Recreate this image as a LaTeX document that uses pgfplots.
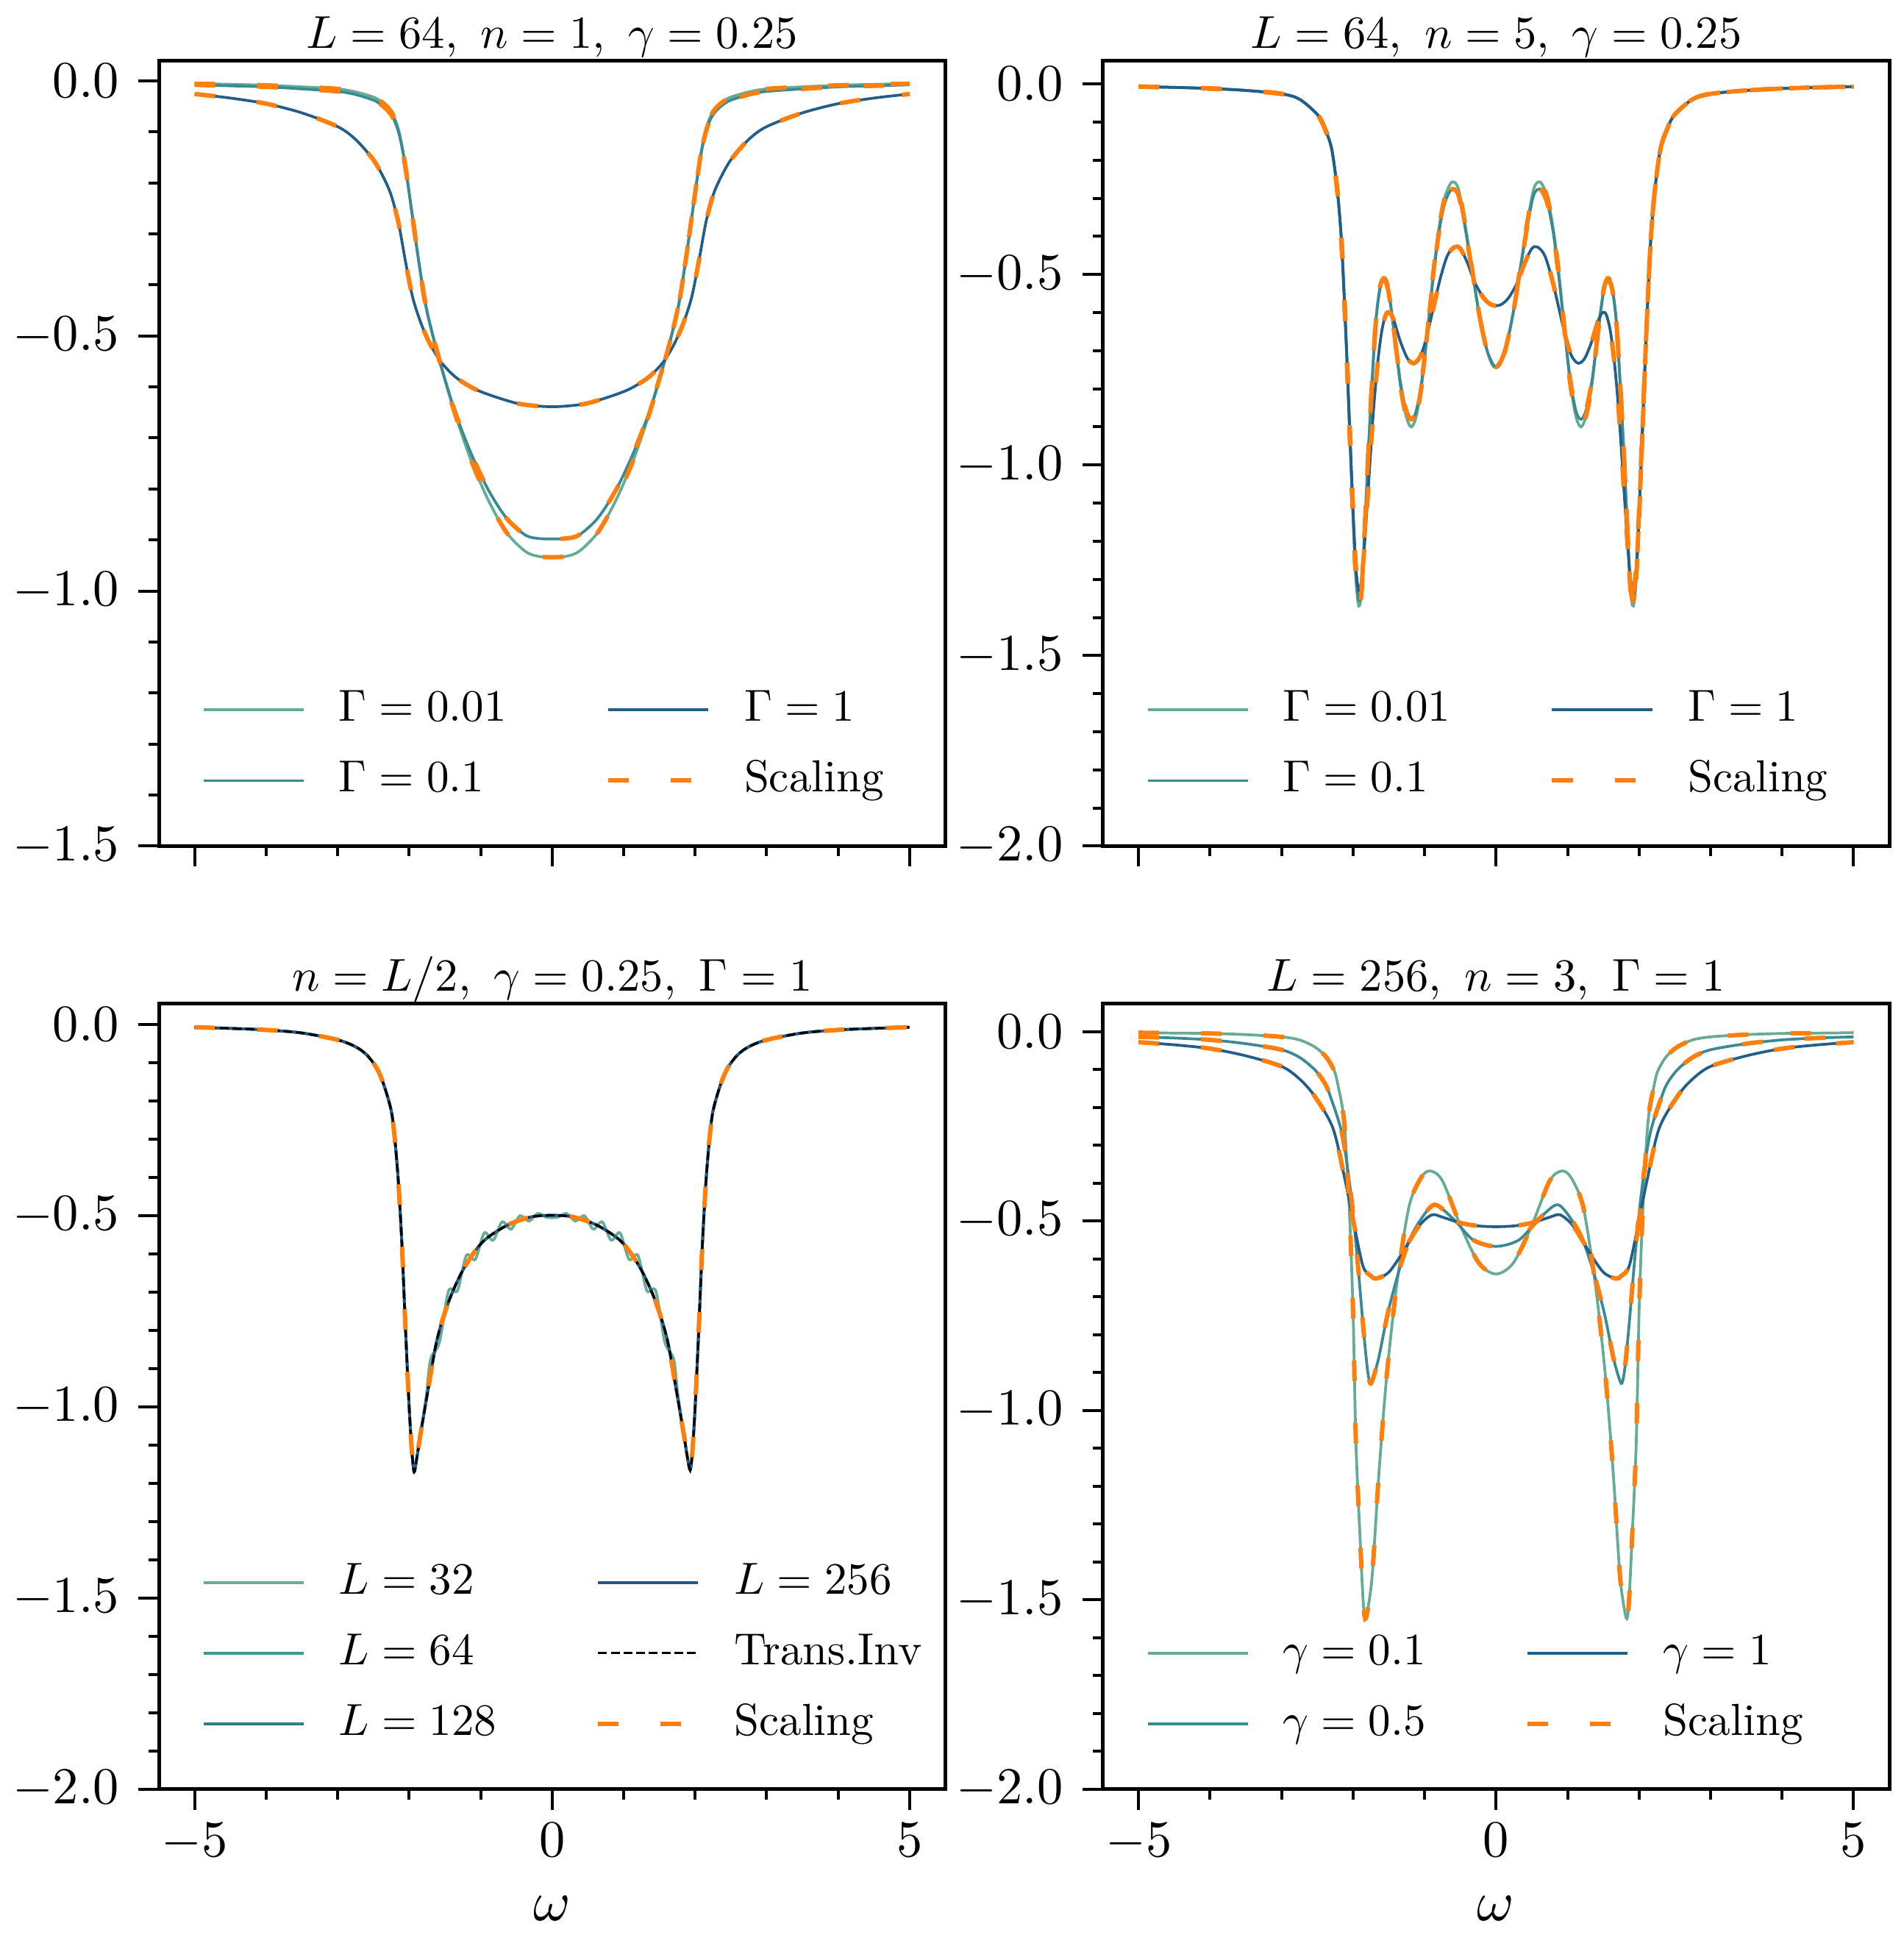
\RequirePackage{fix-cm}
\documentclass[border=0pt]{standalone}
\usepackage{graphicx}
\usepackage{pgfplots}
\usepackage{pgfplotstable}
\pgfplotsset{compat=1.18}
\usepgfplotslibrary{groupplots}
\definecolor{cA}{RGB}{102,172,146}
\definecolor{cB}{RGB}{57,138,146}
\definecolor{cC}{RGB}{34,94,138}
\definecolor{lA}{RGB}{104,174,148}
\definecolor{lB}{RGB}{70,151,144}
\definecolor{lC}{RGB}{48,125,142}
\definecolor{lD}{RGB}{36,88,137}
\definecolor{orng}{RGB}{255,127,14}
\newcommand{\TL}[1]{\scalebox{1.41}{#1}}
\newcommand{\LG}[1]{\scalebox{1.22}{#1}}
\newcommand{\TT}[1]{\scalebox{1.25}{#1}}

% ---------- panel 1 ----------
\pgfplotstableread{
x y
-5 -0.006
-4.5 -0.007
-4 -0.009
-3.5 -0.012
-3 -0.016
-2.75 -0.022
-2.5 -0.032
-2.4 -0.040
-2.3 -0.052
-2.22 -0.068
-2.15 -0.095
-2.09 -0.135
-2.03 -0.190
-1.96 -0.260
-1.87 -0.350
-1.77 -0.440
-1.66 -0.505
-1.53 -0.572
-1.36 -0.652
-1.15 -0.738
-0.9 -0.820
-0.64 -0.885
-0.38 -0.922
-0.2 -0.932
0 -0.934
0.2 -0.932
0.38 -0.922
0.64 -0.885
0.9 -0.820
1.15 -0.738
1.36 -0.652
1.53 -0.572
1.66 -0.505
1.77 -0.440
1.87 -0.350
1.96 -0.260
2.03 -0.190
2.09 -0.135
2.15 -0.095
2.22 -0.068
2.3 -0.052
2.4 -0.040
2.5 -0.032
2.75 -0.022
3 -0.016
3.5 -0.012
4 -0.009
4.5 -0.007
5 -0.006
}\pA
\pgfplotstableread{
x y
-5 -0.008
-4.5 -0.010
-4 -0.012
-3.5 -0.016
-3 -0.021
-2.75 -0.027
-2.5 -0.038
-2.4 -0.046
-2.3 -0.058
-2.22 -0.074
-2.15 -0.100
-2.09 -0.138
-2.03 -0.190
-1.96 -0.260
-1.87 -0.350
-1.77 -0.438
-1.66 -0.504
-1.53 -0.570
-1.36 -0.648
-1.15 -0.725
-0.9 -0.800
-0.64 -0.857
-0.38 -0.890
-0.2 -0.897
0 -0.898
0.2 -0.897
0.38 -0.890
0.64 -0.857
0.9 -0.800
1.15 -0.725
1.36 -0.648
1.53 -0.570
1.66 -0.504
1.77 -0.438
1.87 -0.350
1.96 -0.260
2.03 -0.190
2.09 -0.138
2.15 -0.100
2.22 -0.074
2.3 -0.058
2.4 -0.046
2.5 -0.038
2.75 -0.027
3 -0.021
3.5 -0.016
4 -0.012
4.5 -0.010
5 -0.008
}\pB
\pgfplotstableread{
x y
-5 -0.026
-4.5 -0.034
-4 -0.045
-3.5 -0.063
-3 -0.090
-2.75 -0.115
-2.5 -0.155
-2.35 -0.192
-2.25 -0.225
-2.15 -0.278
-2.05 -0.355
-1.95 -0.425
-1.83 -0.477
-1.7 -0.518
-1.55 -0.552
-1.35 -0.581
-1.1 -0.603
-0.85 -0.617
-0.5 -0.632
-0.25 -0.637
0 -0.639
0.25 -0.637
0.5 -0.632
0.85 -0.617
1.1 -0.603
1.35 -0.581
1.55 -0.552
1.7 -0.518
1.83 -0.477
1.95 -0.425
2.05 -0.355
2.15 -0.278
2.25 -0.225
2.35 -0.192
2.5 -0.155
2.75 -0.115
3 -0.090
3.5 -0.063
4 -0.045
4.5 -0.034
5 -0.026
}\pC

% ---------- panel 2 ----------
\pgfplotstableread{
x y
-5 -0.007
-4.5 -0.009
-4 -0.012
-3.5 -0.017
-3 -0.026
-2.75 -0.040
-2.5 -0.080
-2.4 -0.115
-2.3 -0.170
-2.22 -0.28
-2.16 -0.42
-2.10 -0.66
-2.05 -0.90
-2.00 -1.14
-1.96 -1.30
-1.92 -1.37
-1.88 -1.33
-1.84 -1.18
-1.79 -0.98
-1.74 -0.80
-1.68 -0.62
-1.62 -0.53
-1.56 -0.51
-1.50 -0.545
-1.42 -0.66
-1.34 -0.79
-1.26 -0.87
-1.19 -0.90
-1.12 -0.875
-1.04 -0.79
-0.96 -0.65
-0.88 -0.50
-0.80 -0.38
-0.72 -0.30
-0.64 -0.262
-0.58 -0.258
-0.52 -0.28
-0.44 -0.36
-0.34 -0.48
-0.24 -0.60
-0.14 -0.69
-0.06 -0.735
0 -0.745
0.06 -0.735
0.14 -0.69
0.24 -0.60
0.34 -0.48
0.44 -0.36
0.52 -0.28
0.58 -0.258
0.64 -0.262
0.72 -0.30
0.80 -0.38
0.88 -0.50
0.96 -0.65
1.04 -0.79
1.12 -0.875
1.19 -0.90
1.26 -0.87
1.34 -0.79
1.42 -0.66
1.50 -0.545
1.56 -0.51
1.62 -0.53
1.68 -0.62
1.74 -0.80
1.79 -0.98
1.84 -1.18
1.88 -1.33
1.92 -1.37
1.96 -1.30
2.00 -1.14
2.05 -0.90
2.10 -0.66
2.16 -0.42
2.22 -0.28
2.3 -0.170
2.4 -0.115
2.5 -0.080
2.75 -0.040
3 -0.026
3.5 -0.017
4 -0.012
4.5 -0.009
5 -0.007
}\qA
\pgfplotstableread{
x y
-5 -0.007
-4.5 -0.009
-4 -0.012
-3.5 -0.017
-3 -0.026
-2.75 -0.040
-2.5 -0.080
-2.4 -0.115
-2.3 -0.170
-2.22 -0.28
-2.16 -0.42
-2.10 -0.66
-2.05 -0.90
-2.00 -1.13
-1.96 -1.29
-1.92 -1.355
-1.88 -1.32
-1.84 -1.18
-1.79 -0.98
-1.74 -0.80
-1.68 -0.62
-1.62 -0.535
-1.56 -0.515
-1.50 -0.55
-1.42 -0.66
-1.34 -0.78
-1.26 -0.855
-1.19 -0.88
-1.12 -0.86
-1.04 -0.78
-0.96 -0.65
-0.88 -0.51
-0.80 -0.39
-0.72 -0.315
-0.64 -0.28
-0.58 -0.277
-0.52 -0.295
-0.44 -0.37
-0.34 -0.485
-0.24 -0.60
-0.14 -0.69
-0.06 -0.73
0 -0.742
0.06 -0.73
0.14 -0.69
0.24 -0.60
0.34 -0.485
0.44 -0.37
0.52 -0.295
0.58 -0.277
0.64 -0.28
0.72 -0.315
0.80 -0.39
0.88 -0.51
0.96 -0.65
1.04 -0.78
1.12 -0.86
1.19 -0.88
1.26 -0.855
1.34 -0.78
1.42 -0.66
1.50 -0.55
1.56 -0.515
1.62 -0.535
1.68 -0.62
1.74 -0.80
1.79 -0.98
1.84 -1.18
1.88 -1.32
1.92 -1.355
1.96 -1.29
2.00 -1.13
2.05 -0.90
2.10 -0.66
2.16 -0.42
2.22 -0.28
2.3 -0.170
2.4 -0.115
2.5 -0.080
2.75 -0.040
3 -0.026
3.5 -0.017
4 -0.012
4.5 -0.009
5 -0.007
}\qB
\pgfplotstableread{
x y
-5 -0.007
-4.5 -0.009
-4 -0.012
-3.5 -0.017
-3 -0.026
-2.75 -0.040
-2.5 -0.080
-2.4 -0.115
-2.3 -0.170
-2.22 -0.28
-2.16 -0.42
-2.10 -0.66
-2.05 -0.89
-2.00 -1.12
-1.96 -1.27
-1.92 -1.33
-1.88 -1.30
-1.84 -1.21
-1.78 -1.04
-1.72 -0.87
-1.66 -0.74
-1.60 -0.65
-1.54 -0.605
-1.49 -0.600
-1.43 -0.620
-1.34 -0.675
-1.24 -0.720
-1.15 -0.733
-1.06 -0.715
-0.98 -0.670
-0.88 -0.590
-0.78 -0.510
-0.68 -0.450
-0.58 -0.428
-0.50 -0.432
-0.40 -0.470
-0.30 -0.520
-0.18 -0.560
-0.08 -0.578
0 -0.582
0.08 -0.578
0.18 -0.560
0.30 -0.520
0.40 -0.470
0.50 -0.432
0.58 -0.428
0.68 -0.450
0.78 -0.510
0.88 -0.590
0.98 -0.670
1.06 -0.715
1.15 -0.733
1.24 -0.720
1.34 -0.675
1.43 -0.620
1.49 -0.600
1.54 -0.605
1.60 -0.65
1.66 -0.74
1.72 -0.87
1.78 -1.04
1.84 -1.21
1.88 -1.30
1.92 -1.33
1.96 -1.27
2.00 -1.12
2.05 -0.89
2.10 -0.66
2.16 -0.42
2.22 -0.28
2.3 -0.170
2.4 -0.115
2.5 -0.080
2.75 -0.040
3 -0.026
3.5 -0.017
4 -0.012
4.5 -0.009
5 -0.007
}\qC

% ---------- panel 3 ----------
\pgfplotstableread{
x y
-5 -0.007
-4.5 -0.010
-4 -0.014
-3.5 -0.022
-3 -0.040
-2.75 -0.058
-2.59 -0.080
-2.45 -0.115
-2.35 -0.160
-2.25 -0.226
-2.2 -0.300
-2.15 -0.414
-2.10 -0.580
-2.05 -0.800
-2.0 -1.000
-1.96 -1.120
-1.93 -1.170
-1.89 -1.130
-1.84 -1.070
-1.74 -0.960
-1.61 -0.824
-1.44 -0.721
-1.23 -0.636
-0.97 -0.568
-0.63 -0.525
-0.29 -0.503
0 -0.499
0.29 -0.503
0.63 -0.525
0.97 -0.568
1.23 -0.636
1.44 -0.721
1.61 -0.824
1.74 -0.960
1.84 -1.070
1.89 -1.130
1.93 -1.165
1.96 -1.120
2.0 -1.000
2.05 -0.800
2.10 -0.580
2.15 -0.414
2.2 -0.300
2.25 -0.226
2.35 -0.160
2.45 -0.115
2.59 -0.080
2.75 -0.058
3 -0.040
3.5 -0.022
4 -0.014
4.5 -0.010
5 -0.007
}\rBase
\pgfplotstableread{
x y
-5 -0.007
-4.5 -0.010
-4 -0.014
-3.5 -0.022
-3 -0.040
-2.75 -0.058
-2.59 -0.080
-2.45 -0.115
-2.35 -0.160
-2.25 -0.226
-2.2 -0.300
-2.15 -0.414
-2.10 -0.580
-2.05 -0.800
-2.0 -1.000
-1.96 -1.120
-1.93 -1.170
-1.89 -1.130
-1.84 -1.070
-1.76 -0.970
-1.70 -0.875
-1.575 -0.830
-1.45 -0.697
-1.325 -0.696
-1.2 -0.604
-1.075 -0.614
-0.95 -0.545
-0.825 -0.564
-0.70 -0.516
-0.575 -0.535
-0.45 -0.500
-0.325 -0.514
-0.20 -0.494
-0.075 -0.504
0.075 -0.504
0.20 -0.494
0.325 -0.514
0.45 -0.500
0.575 -0.535
0.70 -0.516
0.825 -0.564
0.95 -0.545
1.075 -0.614
1.2 -0.604
1.325 -0.696
1.45 -0.697
1.575 -0.830
1.70 -0.875
1.76 -0.970
1.84 -1.070
1.89 -1.130
1.93 -1.165
1.96 -1.120
2.0 -1.000
2.05 -0.800
2.10 -0.580
2.15 -0.414
2.2 -0.300
2.25 -0.226
2.35 -0.160
2.45 -0.115
2.59 -0.080
2.75 -0.058
3 -0.040
3.5 -0.022
4 -0.014
4.5 -0.010
5 -0.007
}\rW

% ---------- panel 4 ----------
\pgfplotstableread{
x y
-5 -0.003
-4.5 -0.004
-4 -0.005
-3.5 -0.008
-3 -0.014
-2.75 -0.022
-2.54 -0.040
-2.4 -0.062
-2.32 -0.083
-2.25 -0.110
-2.2 -0.152
-2.15 -0.200
-2.11 -0.273
-2.05 -0.480
-2.0 -0.740
-1.96 -1.087
-1.90 -1.346
-1.86 -1.500
-1.83 -1.550
-1.79 -1.520
-1.73 -1.430
-1.64 -1.170
-1.53 -0.910
-1.39 -0.670
-1.22 -0.464
-1.05 -0.386
-0.92 -0.368
-0.75 -0.394
-0.49 -0.516
-0.24 -0.611
0 -0.640
0.24 -0.611
0.49 -0.516
0.75 -0.394
0.92 -0.368
1.05 -0.386
1.22 -0.464
1.39 -0.670
1.53 -0.910
1.64 -1.170
1.73 -1.430
1.79 -1.520
1.83 -1.550
1.86 -1.500
1.90 -1.346
1.96 -1.087
2.0 -0.740
2.05 -0.480
2.11 -0.273
2.15 -0.200
2.2 -0.152
2.25 -0.110
2.32 -0.083
2.4 -0.062
2.54 -0.040
2.75 -0.022
3 -0.014
3.5 -0.008
4 -0.005
4.5 -0.004
5 -0.003
}\sA
\pgfplotstableread{
x y
-5 -0.014
-4.5 -0.017
-4 -0.022
-3.5 -0.032
-3 -0.048
-2.75 -0.068
-2.54 -0.100
-2.4 -0.135
-2.32 -0.170
-2.15 -0.273
-2.03 -0.430
-1.94 -0.600
-1.86 -0.775
-1.80 -0.890
-1.76 -0.928
-1.72 -0.915
-1.64 -0.860
-1.51 -0.740
-1.34 -0.620
-1.17 -0.533
-0.96 -0.472
-0.83 -0.458
-0.58 -0.498
-0.32 -0.550
0 -0.567
0.32 -0.550
0.58 -0.498
0.83 -0.458
0.96 -0.472
1.17 -0.533
1.34 -0.620
1.51 -0.740
1.64 -0.860
1.72 -0.915
1.76 -0.928
1.80 -0.890
1.86 -0.775
1.94 -0.600
2.03 -0.430
2.15 -0.273
2.32 -0.170
2.4 -0.135
2.54 -0.100
2.75 -0.068
3 -0.048
3.5 -0.032
4 -0.022
4.5 -0.017
5 -0.014
}\sB
\pgfplotstableread{
x y
-5 -0.028
-4.5 -0.035
-4 -0.045
-3.5 -0.064
-3 -0.092
-2.75 -0.125
-2.54 -0.170
-2.28 -0.256
-2.11 -0.394
-1.98 -0.516
-1.86 -0.620
-1.75 -0.645
-1.68 -0.652
-1.51 -0.637
-1.34 -0.593
-1.09 -0.516
-0.9 -0.484
-0.75 -0.490
-0.5 -0.505
-0.25 -0.513
0 -0.515
0.25 -0.513
0.5 -0.505
0.75 -0.490
0.9 -0.484
1.09 -0.516
1.34 -0.593
1.51 -0.637
1.68 -0.652
1.75 -0.645
1.86 -0.620
1.98 -0.516
2.11 -0.394
2.28 -0.256
2.54 -0.170
2.75 -0.125
3 -0.092
3.5 -0.064
4 -0.045
4.5 -0.035
5 -0.028
}\sC

\pgfplotsset{
  myaxis/.style={
    scale only axis, width=213.8pt, height=213.6pt,
    xmin=-5.5, xmax=5.5, xtick={-5,0,5}, minor x tick num=4,
    ytick={-2,-1.5,-1,-0.5,0}, minor y tick num=4,
    tick align=outside, tick pos=left,
    major tick length=5.6pt, minor tick length=2.8pt,
    every tick/.style={black, line width=0.8pt},
    axis line style={line width=1pt},
    yticklabel={\TL{$\pgfmathprintnumber[fixed,fixed zerofill,precision=1]{\tick}$}},
    xticklabel={\TL{$\pgfmathprintnumber{\tick}$}},
    yticklabel style={font=\fontsize{10}{12}\selectfont, inner sep=0pt, xshift=-5pt},
    xticklabel style={font=\fontsize{10}{12}\selectfont, inner sep=0pt, yshift=-3.4pt},
    every axis title/.style={font=\fontsize{10}{12}\selectfont, at={(0.5,1)}, anchor=base, yshift=3.4pt, inner sep=0pt},
    every axis x label/.style={font=\fontsize{10}{12}\selectfont, at={(axis description cs:0.5,0)}, anchor=base, yshift=-35.6pt, inner sep=0pt},
    legend columns=2, legend cell align=left,
    legend image code/.code={\draw[##1] (0pt,0pt) -- (27.2pt,0pt);},
    legend style={draw=none, fill=none, at={(0,0)}, anchor=south west,
      xshift=11.8pt, yshift=12.3pt, inner sep=0pt, outer sep=0pt,
      font=\fontsize{10}{12}\selectfont, row sep=8.2pt,
      nodes={inner sep=0pt, text height=8.6pt, text depth=2.4pt},
      /tikz/every odd column/.append style={column sep=9.2pt},
      /tikz/every even column/.append style={column sep=27pt}},
    every axis plot/.append style={smooth, tension=0.5},
  },
  thin line/.style={line width=0.75pt},
  scal/.style={orng, line width=1.2pt, dash pattern=on 5.6pt off 11.4pt},
}

\begin{document}
\begin{tikzpicture}
\begin{groupplot}[group style={group size=2 by 2, horizontal sep=42.8pt, vertical sep=42.8pt, xticklabels at=edge bottom}, myaxis]
% ---- panel 1
\nextgroupplot[ymin=-1.5, ymax=0.04, title={\TT{$L=64,\ n=1,\ \gamma=0.25$}}]
\addplot[cA, thin line, forget plot] table {\pA};
\addplot[cB, thin line, forget plot] table {\pB};
\addplot[cC, thin line, forget plot] table {\pC};
\addplot[scal, forget plot] table {\pA};
\addplot[scal, forget plot] table {\pB};
\addplot[scal, forget plot] table {\pC};
\addlegendimage{cA, thin line}\addlegendentry{\LG{$\Gamma=0.01$}}
\addlegendimage{cC, thin line}\addlegendentry{\LG{$\Gamma=1$}}
\addlegendimage{cB, thin line}\addlegendentry{\LG{$\Gamma=0.1$}}
\addlegendimage{scal}\addlegendentry{\LG{Scaling}}
% ---- panel 2
\nextgroupplot[ymin=-2, ymax=0.062, title={\TT{$L=64,\ n=5,\ \gamma=0.25$}}]
\addplot[cA, thin line, forget plot] table {\qA};
\addplot[cB, thin line, forget plot] table {\qB};
\addplot[cC, thin line, forget plot] table {\qC};
\addplot[scal, forget plot] table {\qA};
\addplot[scal, forget plot] table {\qB};
\addplot[scal, forget plot] table {\qC};
\addlegendimage{cA, thin line}\addlegendentry{\LG{$\Gamma=0.01$}}
\addlegendimage{cC, thin line}\addlegendentry{\LG{$\Gamma=1$}}
\addlegendimage{cB, thin line}\addlegendentry{\LG{$\Gamma=0.1$}}
\addlegendimage{scal}\addlegendentry{\LG{Scaling}}
% ---- panel 3
\nextgroupplot[ymin=-2, ymax=0.055, title={\TT{$n=L/2,\ \gamma=0.25,\ \Gamma=1$}}, xlabel={\scalebox{1.54}{$\omega$}}]
\addplot[lA, thin line, forget plot] table {\rW};
\addplot[lB, thin line, forget plot] table {\rBase};
\addplot[lC, thin line, forget plot] table {\rBase};
\addplot[lD, thin line, forget plot] table {\rBase};
\addplot[black, line width=0.65pt, dash pattern=on 2.4pt off 1.05pt, forget plot] table {\rBase};
\addplot[scal, forget plot] table {\rBase};
\addlegendimage{lA, thin line}\addlegendentry{\LG{$L=32$}}
\addlegendimage{lD, thin line}\addlegendentry{\LG{$L=256$}}
\addlegendimage{lB, thin line}\addlegendentry{\LG{$L=64$}}
\addlegendimage{black, line width=0.65pt, dash pattern=on 2.4pt off 1.05pt}\addlegendentry{\LG{Trans.Inv}}
\addlegendimage{lC, thin line}\addlegendentry{\LG{$L=128$}}
\addlegendimage{scal}\addlegendentry{\LG{Scaling}}
% ---- panel 4
\nextgroupplot[ymin=-2, ymax=0.074, title={\TT{$L=256,\ n=3,\ \Gamma=1$}}, xlabel={\scalebox{1.54}{$\omega$}}]
\addplot[cA, thin line, forget plot] table {\sA};
\addplot[cB, thin line, forget plot] table {\sB};
\addplot[cC, thin line, forget plot] table {\sC};
\addplot[scal, forget plot] table {\sA};
\addplot[scal, forget plot] table {\sB};
\addplot[scal, forget plot] table {\sC};
\addlegendimage{cA, thin line}\addlegendentry{\LG{$\gamma=0.1$}}
\addlegendimage{cC, thin line}\addlegendentry{\LG{$\gamma=1$}}
\addlegendimage{cB, thin line}\addlegendentry{\LG{$\gamma=0.5$}}
\addlegendimage{scal}\addlegendentry{\LG{Scaling}}
\end{groupplot}
\path[use as bounding box] ([xshift=-43.2pt,yshift=16.4pt]group c1r1.north west) rectangle ([xshift=3.8pt,yshift=-42.6pt]group c2r2.south east);
\end{tikzpicture}
\end{document}
